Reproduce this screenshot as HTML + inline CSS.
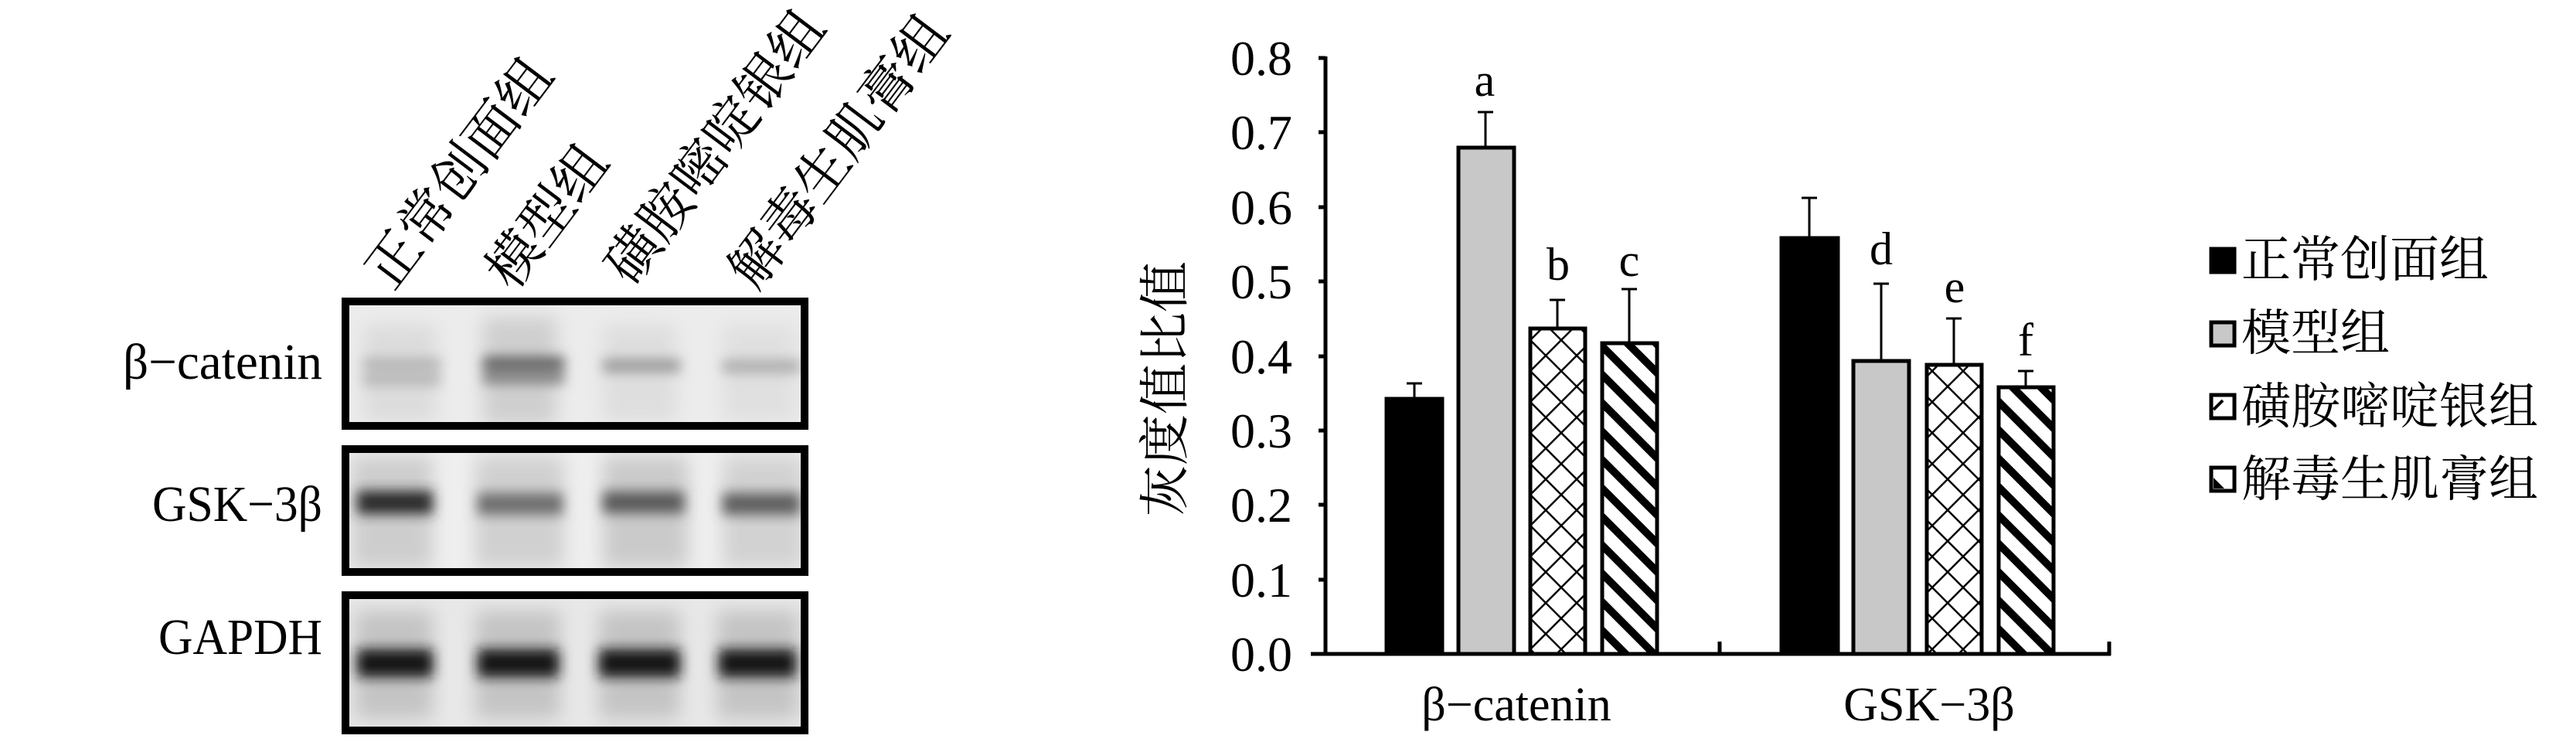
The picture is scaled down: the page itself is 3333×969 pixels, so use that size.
<!DOCTYPE html>
<html><head><meta charset="utf-8"><style>
html,body{margin:0;padding:0;background:#fff;}
svg{display:block;}
text{font-family:"Liberation Serif","Noto Serif CJK SC",serif;fill:#000;}
.cjk{font-family:"Liberation Serif","Noto Serif CJK SC","Noto Sans CJK SC",serif;}
</style></head><body>
<svg width="3333" height="969" viewBox="0 0 3333 969" xmlns="http://www.w3.org/2000/svg">
<defs>
<filter id="b1" x="-50%" y="-50%" width="200%" height="200%"><feGaussianBlur stdDeviation="12"/></filter>
<filter id="b2" x="-50%" y="-50%" width="200%" height="200%"><feGaussianBlur stdDeviation="8"/></filter>
<pattern id="cross" width="40" height="40" patternUnits="userSpaceOnUse">
<rect width="40" height="40" fill="#fff"/>
<path d="M0 20 L20 0 L40 20 L20 40 Z" fill="none" stroke="#000" stroke-width="2.5"/>
</pattern>
<pattern id="stripe" width="26" height="26" patternUnits="userSpaceOnUse" patternTransform="rotate(-45)">
<rect width="26" height="26" fill="#fff"/>
<rect x="0" y="0" width="10" height="26" fill="#000"/>
</pattern>
<clipPath id="c1"><rect x="452" y="395" width="584" height="151"/></clipPath>
<clipPath id="c2"><rect x="452" y="586" width="584" height="149"/></clipPath>
<clipPath id="c3"><rect x="452" y="775" width="584" height="165"/></clipPath>
</defs>

<g font-size="70" class="cjk">
<text class="cjk" transform="translate(508,378) rotate(-53)">正常创面组</text>
<text class="cjk" transform="translate(664,378) rotate(-53)">模型组</text>
<text class="cjk" transform="translate(818,372) rotate(-53)">磺胺嘧啶银组</text>
<text class="cjk" transform="translate(978,378) rotate(-53)">解毒生肌膏组</text>
</g>

<g font-size="66" text-anchor="end">
<text x="417" y="490" textLength="258" lengthAdjust="spacingAndGlyphs">β−catenin</text>
<text x="417" y="674" textLength="220" lengthAdjust="spacingAndGlyphs">GSK−3β</text>
<text x="417" y="846" textLength="212" lengthAdjust="spacingAndGlyphs">GAPDH</text>
</g>

<g clip-path="url(#c1)">
<rect x="452" y="395" width="584" height="151" fill="#ececec"/>
<g filter="url(#b1)">
<rect x="470" y="420" width="95" height="125" fill="#dcdcdc"/>
<rect x="625" y="410" width="95" height="140" fill="#cfcfcf"/>
<rect x="780" y="420" width="95" height="125" fill="#dedede"/>
<rect x="935" y="420" width="95" height="125" fill="#e0e0e0"/>
</g>
<g filter="url(#b2)">
<rect x="470" y="465" width="100" height="12" fill="#a8a8a8"/>
<rect x="470" y="485" width="100" height="12" fill="#acacac"/>
<rect x="625" y="462" width="105" height="16" fill="#5a5a5a"/>
<rect x="625" y="482" width="105" height="14" fill="#7a7a7a"/>
<rect x="780" y="465" width="100" height="16" fill="#969696"/>
<rect x="935" y="466" width="100" height="16" fill="#aaaaaa"/>
</g>
</g>
<rect x="447" y="390" width="594" height="161" fill="none" stroke="#000" stroke-width="10"/>

<g clip-path="url(#c2)">
<rect x="452" y="586" width="584" height="149" fill="#efefef"/>
<g filter="url(#b1)">
<rect x="455" y="590" width="105" height="145" fill="#cdcdcd"/>
<rect x="615" y="590" width="115" height="145" fill="#d0d0d0"/>
<rect x="780" y="590" width="110" height="145" fill="#cacaca"/>
<rect x="935" y="590" width="105" height="145" fill="#d2d2d2"/>
</g>
<g filter="url(#b2)">
<rect x="462" y="635" width="98" height="30" fill="#2a2a2a"/>
<rect x="618" y="638" width="110" height="28" fill="#6e6e6e"/>
<rect x="780" y="636" width="105" height="28" fill="#5a5a5a"/>
<rect x="935" y="638" width="100" height="28" fill="#5e5e5e"/>
</g>
</g>
<rect x="447" y="581" width="594" height="159" fill="none" stroke="#000" stroke-width="10"/>

<g clip-path="url(#c3)">
<rect x="452" y="775" width="584" height="165" fill="#e8e8e8"/>
<g filter="url(#b1)">
<rect x="460" y="790" width="100" height="140" fill="#c4c4c4"/>
<rect x="615" y="790" width="110" height="140" fill="#c4c4c4"/>
<rect x="775" y="790" width="105" height="140" fill="#c4c4c4"/>
<rect x="928" y="790" width="105" height="140" fill="#c4c4c4"/>
</g>
<g filter="url(#b2)">
<rect x="462" y="840" width="98" height="36" fill="#141414"/>
<rect x="618" y="840" width="105" height="36" fill="#141414"/>
<rect x="775" y="840" width="105" height="36" fill="#141414"/>
<rect x="930" y="840" width="100" height="36" fill="#181818"/>
</g>
</g>
<rect x="447" y="770" width="594" height="175" fill="none" stroke="#000" stroke-width="10"/>

<g stroke="#000" stroke-width="5">
<line x1="1715" y1="73" x2="1715" y2="848"/>
<line x1="1696" y1="846" x2="2731" y2="846"/>
<line x1="2225" y1="830" x2="2225" y2="848"/>
<line x1="2729" y1="830" x2="2729" y2="848"/>
<line x1="1706" y1="75" x2="1715" y2="75"/>
<line x1="1706" y1="171" x2="1715" y2="171"/>
<line x1="1706" y1="268" x2="1715" y2="268"/>
<line x1="1706" y1="364" x2="1715" y2="364"/>
<line x1="1706" y1="461" x2="1715" y2="461"/>
<line x1="1706" y1="557" x2="1715" y2="557"/>
<line x1="1706" y1="653" x2="1715" y2="653"/>
<line x1="1706" y1="750" x2="1715" y2="750"/>
</g>
<g font-size="64" text-anchor="end">
<text x="1672" y="97">0.8</text>
<text x="1672" y="193">0.7</text>
<text x="1672" y="290">0.6</text>
<text x="1672" y="386">0.5</text>
<text x="1672" y="483">0.4</text>
<text x="1672" y="579">0.3</text>
<text x="1672" y="675">0.2</text>
<text x="1672" y="772">0.1</text>
<text x="1672" y="868">0.0</text>
</g>
<text class="cjk" font-size="66" text-anchor="middle" transform="translate(1530,503) rotate(-90)">灰度值比值</text>

<g stroke="#000" stroke-width="3">
<line x1="1830" y1="496" x2="1830" y2="516"/><line x1="1820" y1="496" x2="1840" y2="496"/>
<line x1="1922" y1="145" x2="1922" y2="191"/><line x1="1912" y1="145" x2="1932" y2="145"/>
<line x1="2015" y1="388" x2="2015" y2="425"/><line x1="2005" y1="388" x2="2025" y2="388"/>
<line x1="2108" y1="374" x2="2108" y2="444"/><line x1="2098" y1="374" x2="2118" y2="374"/>
<line x1="2341" y1="256" x2="2341" y2="308"/><line x1="2331" y1="256" x2="2351" y2="256"/>
<line x1="2434" y1="367" x2="2434" y2="467"/><line x1="2424" y1="367" x2="2444" y2="367"/>
<line x1="2528" y1="412" x2="2528" y2="472"/><line x1="2518" y1="412" x2="2538" y2="412"/>
<line x1="2621" y1="480" x2="2621" y2="501"/><line x1="2611" y1="480" x2="2631" y2="480"/>
</g>
<g stroke="#000" stroke-width="5">
<rect x="1794" y="516" width="72" height="330" fill="#000"/>
<rect x="1887" y="191" width="72" height="655" fill="#c8c8c8"/>
<rect x="1980" y="425" width="71" height="421" fill="url(#cross)"/>
<rect x="2073" y="444" width="71" height="402" fill="url(#stripe)"/>
<rect x="2305" y="308" width="73" height="538" fill="#000"/>
<rect x="2398" y="467" width="72" height="379" fill="#c8c8c8"/>
<rect x="2493" y="472" width="71" height="374" fill="url(#cross)"/>
<rect x="2586" y="501" width="71" height="345" fill="url(#stripe)"/>
</g>
<g font-size="60" text-anchor="middle">
<text x="1921" y="124">a</text>
<text x="2016" y="362">b</text>
<text x="2108" y="357">c</text>
<text x="2434" y="342">d</text>
<text x="2529" y="391">e</text>
<text x="2621" y="460">f</text>
</g>
<g font-size="62" text-anchor="middle">
<text x="1962" y="932">β−catenin</text>
<text x="2496" y="932">GSK−3β</text>
</g>

<g stroke="#000" stroke-width="5">
<rect x="2861" y="322" width="30" height="30" fill="#000"/>
<rect x="2861" y="417" width="30" height="30" fill="#c8c8c8"/>
<rect x="2861" y="511" width="30" height="30" fill="#fff"/>
<rect x="2861" y="605" width="30" height="30" fill="#fff"/>
</g>
<path d="M2864 530 L2876 518" stroke="#000" stroke-width="4"/>
<path d="M2864 618 L2878 632 L2864 632 Z" fill="#000"/>
<g font-size="64" class="cjk">
<text class="cjk" x="2900" y="358">正常创面组</text>
<text class="cjk" x="2900" y="453">模型组</text>
<text class="cjk" x="2900" y="548">磺胺嘧啶银组</text>
<text class="cjk" x="2900" y="642">解毒生肌膏组</text>
</g>
</svg>
</body></html>
